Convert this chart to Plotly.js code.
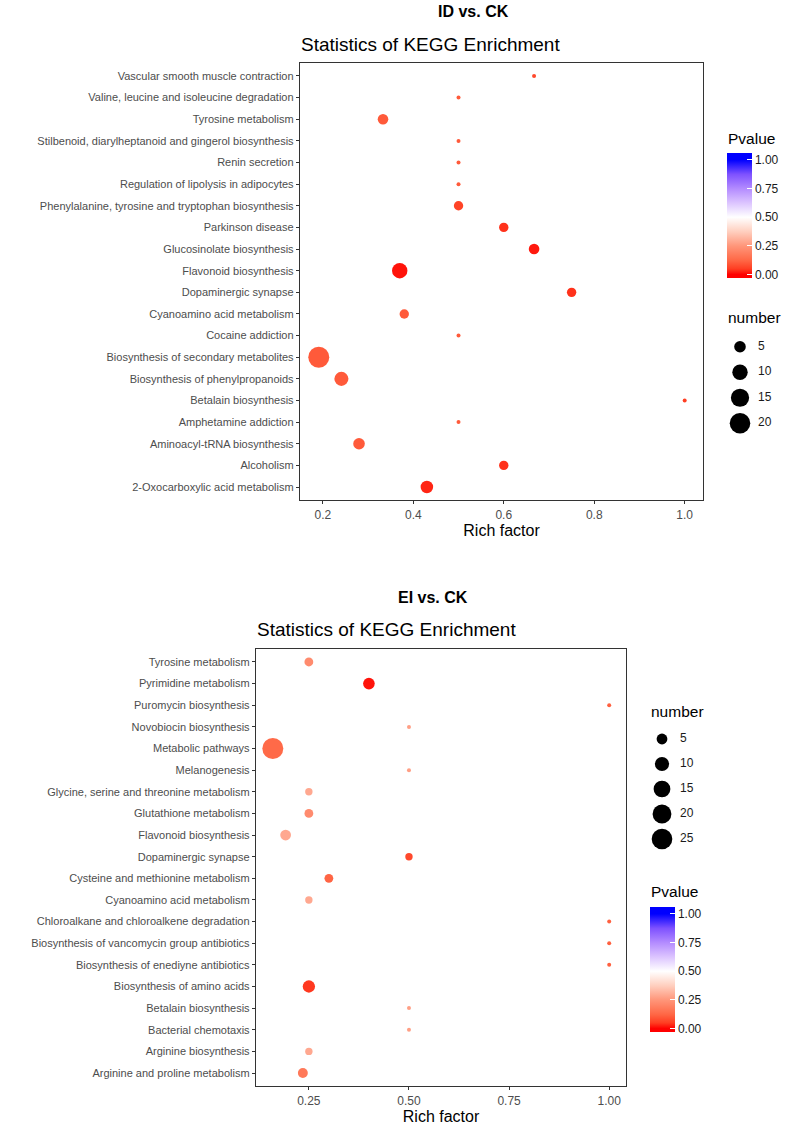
<!DOCTYPE html>
<html>
<head>
<meta charset="utf-8">
<script src="https://cdn.plot.ly/plotly-3.0.1.min.js"></script>
<style>html,body{margin:0;padding:0;background:#fff;}#chart{width:787px;height:1128px;}</style>
</head>
<body>
<div id="chart"></div>
<script>
// ---------------- Data: ID vs. CK (bottom-to-top order) ----------------
var topPathways = [
  "2-Oxocarboxylic acid metabolism",
  "Alcoholism",
  "Aminoacyl-tRNA biosynthesis",
  "Amphetamine addiction",
  "Betalain biosynthesis",
  "Biosynthesis of phenylpropanoids",
  "Biosynthesis of secondary metabolites",
  "Cocaine addiction",
  "Cyanoamino acid metabolism",
  "Dopaminergic synapse",
  "Flavonoid biosynthesis",
  "Glucosinolate biosynthesis",
  "Parkinson disease",
  "Phenylalanine, tyrosine and tryptophan biosynthesis",
  "Regulation of lipolysis in adipocytes",
  "Renin secretion",
  "Stilbenoid, diarylheptanoid and gingerol biosynthesis",
  "Tyrosine metabolism",
  "Valine, leucine and isoleucine degradation",
  "Vascular smooth muscle contraction"
];
var topRichFactor = [0.43, 0.6, 0.28, 0.5, 1.0, 0.241, 0.191, 0.5, 0.38, 0.75, 0.37, 0.667, 0.6, 0.5, 0.5, 0.5, 0.5, 0.333, 0.5, 0.667];
var topNumber     = [6, 3, 5, 1, 1, 8, 21, 1, 3, 3, 10, 4, 3, 3, 1, 1, 1, 4, 1, 1];
var topPvalue     = [0.03, 0.04, 0.1, 0.1, 0.05, 0.1, 0.1, 0.1, 0.1, 0.04, 0.015, 0.02, 0.04, 0.06, 0.1, 0.1, 0.1, 0.1, 0.1, 0.07];
var topXTicks      = [0.2, 0.4, 0.6, 0.8, 1.0];
var topXTickLabels = ["0.2", "0.4", "0.6", "0.8", "1.0"];
var topSizeLegend  = [5, 10, 15, 20];

// ---------------- Data: EI vs. CK (bottom-to-top order) ----------------
var botPathways = [
  "Arginine and proline metabolism",
  "Arginine biosynthesis",
  "Bacterial chemotaxis",
  "Betalain biosynthesis",
  "Biosynthesis of amino acids",
  "Biosynthesis of enediyne antibiotics",
  "Biosynthesis of vancomycin group antibiotics",
  "Chloroalkane and chloroalkene degradation",
  "Cyanoamino acid metabolism",
  "Cysteine and methionine metabolism",
  "Dopaminergic synapse",
  "Flavonoid biosynthesis",
  "Glutathione metabolism",
  "Glycine, serine and threonine metabolism",
  "Melanogenesis",
  "Metabolic pathways",
  "Novobiocin biosynthesis",
  "Puromycin biosynthesis",
  "Pyrimidine metabolism",
  "Tyrosine metabolism"
];
var botRichFactor = [0.235, 0.25, 0.5, 0.5, 0.25, 1.0, 1.0, 1.0, 0.25, 0.3, 0.5, 0.192, 0.25, 0.25, 0.5, 0.16, 0.5, 1.0, 0.4, 0.25];
var botNumber     = [4, 2, 1, 1, 7, 1, 1, 1, 2, 3, 2, 5, 3, 2, 1, 26, 1, 1, 6, 3];
var botPvalue     = [0.17, 0.29, 0.27, 0.27, 0.045, 0.11, 0.11, 0.11, 0.29, 0.12, 0.07, 0.29, 0.22, 0.29, 0.27, 0.13, 0.27, 0.11, 0.015, 0.22];
var botXTicks      = [0.25, 0.5, 0.75, 1.0];
var botXTickLabels = ["0.25", "0.50", "0.75", "1.00"];
var botSizeLegend  = [5, 10, 15, 20, 25];

var pTicks      = [0, 0.25, 0.5, 0.75, 1];
var pTickLabels = ["0.00", "0.25", "0.50", "0.75", "1.00"];

// ---------------- Styling helpers ----------------
var W = 787, H = 1128;
function px(x) { return x / W; }
function py(y) { return 1 - y / H; }
var FONT = "Liberation Sans, Arial, Helvetica, sans-serif";

// ggplot-like red-white-blue (Lab interpolated) gradient, value -> colour
var gradStops = [[0, "#FF0000"], [0.05, "#FF3E22"], [0.125, "#FF6846"], [0.25, "#FF967A"],
                 [0.375, "#FFCFBF"], [0.5, "#FFFFFF"], [0.625, "#DCC4FF"], [0.75, "#B38BFF"],
                 [0.875, "#7E51FF"], [1, "#0000FF"]];
var CMIN = -0.03, CMAX = 1.06;
var colorscale = [[0, "#FF0000"]];
gradStops.forEach(function (s) { colorscale.push([(s[0] - CMIN) / (CMAX - CMIN), s[1]]); });
colorscale.push([1, "#0000FF"]);

function sizeScale(maxN) {
  return function (n) { return 4 + 17 * Math.sqrt((n - 1) / (maxN - 1)); };
}
var topSize = sizeScale(Math.max.apply(null, topNumber));
var botSize = sizeScale(Math.max.apply(null, botNumber));

function colorbar(xLeft, yTop) {
  return {
    x: px(xLeft), xanchor: "left", y: py(yTop), yanchor: "top",
    len: 125, lenmode: "pixels", thickness: 25, thicknessmode: "pixels",
    xpad: 0, ypad: 0, outlinewidth: 0,
    tickmode: "array", tickvals: pTicks, ticktext: pTickLabels,
    ticks: "inside", ticklen: 5, tickcolor: "#FFFFFF", tickwidth: 1,
    tickfont: { family: FONT, size: 12, color: "#1A1A1A" }
  };
}

var traces = [
  {
    type: "scatter", mode: "markers", xaxis: "x", yaxis: "y",
    x: topRichFactor, y: topPathways, showlegend: false,
    marker: {
      size: topNumber.map(topSize), color: topPvalue, cmin: CMIN, cmax: CMAX,
      colorscale: colorscale, line: { width: 0 }, opacity: 1,
      showscale: true, colorbar: colorbar(727, 153)
    },
    hoverinfo: "skip"
  },
  {
    type: "scatter", mode: "markers", xaxis: "x2", yaxis: "y2",
    x: botRichFactor, y: botPathways, showlegend: false,
    marker: {
      size: botNumber.map(botSize), color: botPvalue, cmin: CMIN, cmax: CMAX,
      colorscale: colorscale, line: { width: 0 }, opacity: 1,
      showscale: true, colorbar: colorbar(650, 907)
    },
    hoverinfo: "skip"
  },
  // size legend (top)
  {
    type: "scatter", mode: "markers", xaxis: "x3", yaxis: "y3", showlegend: false,
    x: topSizeLegend.map(function () { return 13; }), y: topSizeLegend.map(function (v, i) { return i; }),
    marker: { size: topSizeLegend.map(topSize), color: "#000000", opacity: 1, line: { width: 0 } }, hoverinfo: "skip"
  },
  {
    type: "scatter", mode: "text", xaxis: "x3", yaxis: "y3", showlegend: false,
    x: topSizeLegend.map(function () { return 31; }), y: topSizeLegend.map(function (v, i) { return i; }),
    text: topSizeLegend.map(String), textposition: "middle right",
    textfont: { family: FONT, size: 12, color: "#1A1A1A" }, hoverinfo: "skip"
  },
  // size legend (bottom)
  {
    type: "scatter", mode: "markers", xaxis: "x4", yaxis: "y4", showlegend: false,
    x: botSizeLegend.map(function () { return 12; }), y: botSizeLegend.map(function (v, i) { return i; }),
    marker: { size: botSizeLegend.map(botSize), color: "#000000", opacity: 1, line: { width: 0 } }, hoverinfo: "skip"
  },
  {
    type: "scatter", mode: "text", xaxis: "x4", yaxis: "y4", showlegend: false,
    x: botSizeLegend.map(function () { return 30; }), y: botSizeLegend.map(function (v, i) { return i; }),
    text: botSizeLegend.map(String), textposition: "middle right",
    textfont: { family: FONT, size: 12, color: "#1A1A1A" }, hoverinfo: "skip"
  }
];

function xAxis(domain, range, tv, tt, anchor) {
  return {
    domain: domain, range: range, anchor: anchor, autorange: false,
    tickmode: "array", tickvals: tv, ticktext: tt,
    showgrid: false, zeroline: false, showline: true, mirror: true,
    linecolor: "#333333", linewidth: 1.2,
    ticks: "outside", ticklen: 3, tickwidth: 1, tickcolor: "#333333",
    tickfont: { family: FONT, size: 12, color: "#4D4D4D" },
    title: { text: "Rich factor", font: { family: FONT, size: 16, color: "#000000" }, standoff: 3 }
  };
}
function yAxis(domain, cats, anchor) {
  return {
    domain: domain, type: "category", categoryorder: "array", categoryarray: cats,
    range: [-0.6, cats.length - 0.4], autorange: false, anchor: anchor,
    showgrid: false, zeroline: false, showline: true, mirror: true,
    linecolor: "#333333", linewidth: 1.2,
    ticks: "outside", ticklen: 3, tickwidth: 1, tickcolor: "#333333",
    tickfont: { family: FONT, size: 11, color: "#4D4D4D" }
  };
}
var hidden = { showgrid: false, zeroline: false, showline: false, showticklabels: false, ticks: "", fixedrange: true };

var layout = {
  width: W, height: H,
  margin: { l: 0, r: 0, t: 0, b: 0 },
  paper_bgcolor: "#FFFFFF", plot_bgcolor: "#FFFFFF",
  font: { family: FONT },
  showlegend: false,
  xaxis:  xAxis([px(300), px(703)], [0.1495, 1.0405], topXTicks, topXTickLabels, "y"),
  yaxis:  yAxis([py(500), py(63)], topPathways, "x"),
  xaxis2: xAxis([px(256), px(626)], [0.118, 1.042], botXTicks, botXTickLabels, "y2"),
  yaxis2: yAxis([py(1086), py(649)], botPathways, "x2"),
  xaxis3: Object.assign({ domain: [px(727), 1], range: [0, 60], anchor: "y3" }, hidden),
  yaxis3: Object.assign({ domain: [py(436), py(334)], range: [3.5, -0.5], anchor: "x3" }, hidden),
  xaxis4: Object.assign({ domain: [px(650), 1], range: [0, 137], anchor: "y4" }, hidden),
  yaxis4: Object.assign({ domain: [py(851.5), py(726.5)], range: [4.5, -0.5], anchor: "x4" }, hidden),
  annotations: [
    { text: "<b>ID vs. CK</b>", x: px(473), y: py(12), xref: "paper", yref: "paper", xanchor: "center", yanchor: "middle",
      showarrow: false, font: { family: FONT, size: 16, color: "#000000" } },
    { text: "Statistics of KEGG Enrichment", x: px(299), y: py(45), xref: "paper", yref: "paper", xanchor: "left", yanchor: "middle",
      showarrow: false, font: { family: FONT, size: 19, color: "#000000" } },
    { text: "<b>EI vs. CK</b>", x: px(433), y: py(597), xref: "paper", yref: "paper", xanchor: "center", yanchor: "middle",
      showarrow: false, font: { family: FONT, size: 16, color: "#000000" } },
    { text: "Statistics of KEGG Enrichment", x: px(255), y: py(630), xref: "paper", yref: "paper", xanchor: "left", yanchor: "middle",
      showarrow: false, font: { family: FONT, size: 19, color: "#000000" } },
    { text: "Pvalue", x: px(726), y: py(138), xref: "paper", yref: "paper", xanchor: "left", yanchor: "middle",
      showarrow: false, font: { family: FONT, size: 15.5, color: "#000000" } },
    { text: "number", x: px(726), y: py(317), xref: "paper", yref: "paper", xanchor: "left", yanchor: "middle",
      showarrow: false, font: { family: FONT, size: 15.5, color: "#000000" } },
    { text: "number", x: px(649), y: py(711), xref: "paper", yref: "paper", xanchor: "left", yanchor: "middle",
      showarrow: false, font: { family: FONT, size: 15.5, color: "#000000" } },
    { text: "Pvalue", x: px(649), y: py(891), xref: "paper", yref: "paper", xanchor: "left", yanchor: "middle",
      showarrow: false, font: { family: FONT, size: 15.5, color: "#000000" } }
  ]
};

Plotly.newPlot("chart", traces, layout, { displayModeBar: false, staticPlot: true });
</script>
</body>
</html>
